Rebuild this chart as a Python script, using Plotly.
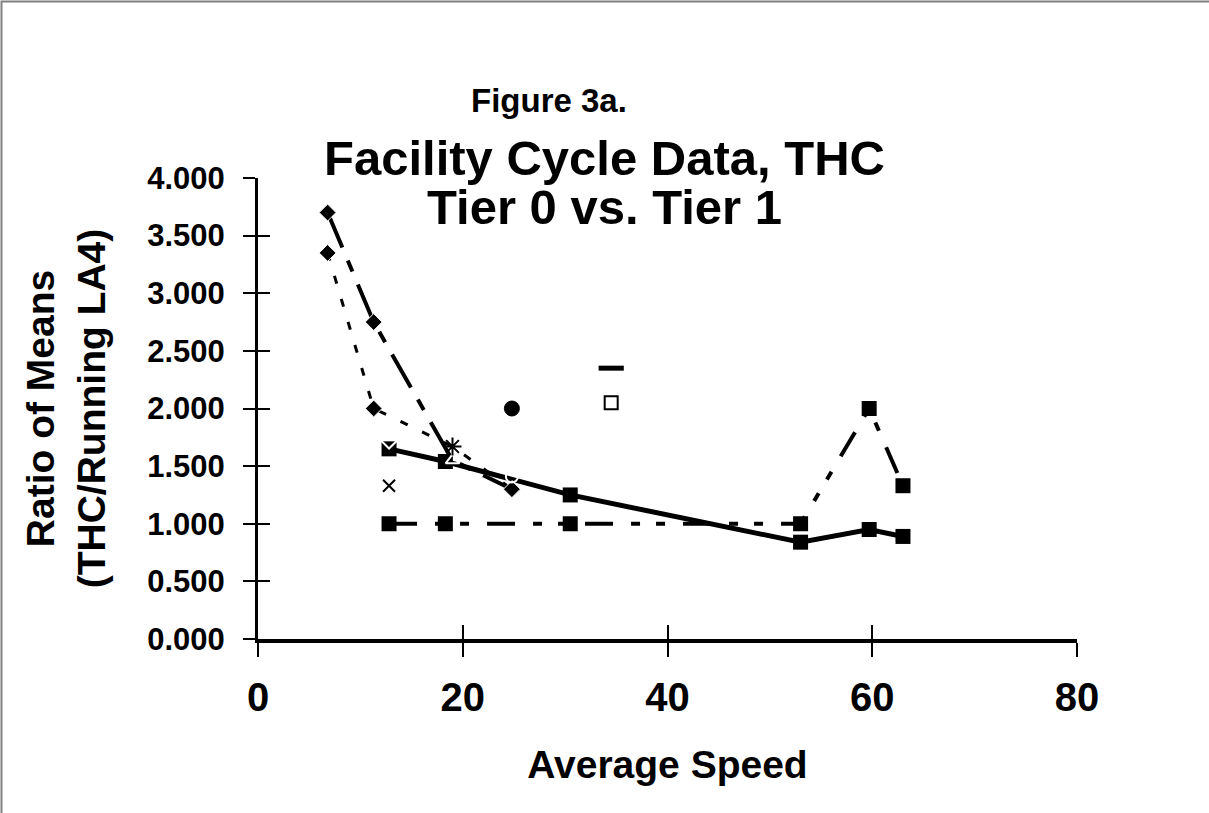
import plotly.graph_objects as go

# Tier 0 series (diamonds)
t0_long_x = [6.8, 11.3, 19.0, 24.8]
t0_long_y = [3.70, 2.75, 1.55, 1.30]
t0_dot_x = [6.8, 11.3, 19.0, 24.8]
t0_dot_y = [3.35, 2.00, 1.67, 1.30]

# Tier 1 series (squares)
t1_solid_x = [12.8, 18.3, 30.5, 53.0, 59.7, 63.0]
t1_solid_y = [1.65, 1.54, 1.25, 0.84, 0.95, 0.89]
t1_dash_x = [12.8, 18.3, 30.5, 53.0, 59.7, 63.0]
t1_dash_y = [1.00, 1.00, 1.00, 1.00, 2.00, 1.33]

# single points
open_x = [12.8, 19.0, 24.8]
open_y = [1.72, 1.55, 1.41]
open_symbols = ["diamond-open", "triangle-up-open", "circle-open"]
pts_x = [12.8, 19.0, 24.8, 34.5, 34.5]
pts_y = [1.33, 1.67, 2.00, 2.35, 2.05]
pts_symbols = ["x-thin-open", "asterisk-open", "circle", "line-ew-open", "square-open"]
pts_sizes = [12, 15, 15, 18, 13]
pts_widths = [2, 2, 1, 5, 2]

x_ticks = [0, 20, 40, 60, 80]
y_ticks = [0, 0.5, 1.0, 1.5, 2.0, 2.5, 3.0, 3.5, 4.0]

FONT = "Liberation Sans, Arial, sans-serif"

fig = go.Figure()

fig.add_trace(go.Scatter(x=t1_dash_x, y=t1_dash_y, mode="lines+markers",
                         line=dict(color="black", width=4, dash="28px,18px,9px,16px,9px,18px"),
                         marker=dict(symbol="square", size=15, color="black")))
fig.add_trace(go.Scatter(x=t1_solid_x, y=t1_solid_y, mode="lines+markers",
                         line=dict(color="black", width=5),
                         marker=dict(symbol="square", size=15, color="black")))
# diamond markers are hidden at 19 mph, where other symbols sit
fig.add_trace(go.Scatter(x=t0_dot_x, y=t0_dot_y, mode="lines+markers",
                         line=dict(color="black", width=3, dash="8px,16px"),
                         marker=dict(symbol="diamond", size=[13, 13, 0, 13],
                                     color="black", opacity=1)))
fig.add_trace(go.Scatter(x=t0_long_x, y=t0_long_y, mode="lines+markers",
                         line=dict(color="black", width=4, dash="38px,14px,12px,14px"),
                         marker=dict(symbol="diamond", size=[13, 13, 0, 13],
                                     color="black", opacity=1)))
fig.add_trace(go.Scatter(x=open_x, y=open_y, mode="markers",
                         marker=dict(symbol=open_symbols, size=12, color="white", opacity=1,
                                     line=dict(color="black", width=2))))
for px_, py_, sym, sz, lw in zip(pts_x, pts_y, pts_symbols, pts_sizes, pts_widths):
    fig.add_trace(go.Scatter(x=[px_], y=[py_], mode="markers",
                             marker=dict(symbol=sym, size=sz, color="black", opacity=1,
                                         line=dict(color="black", width=lw))))

axis_common = dict(showgrid=False, zeroline=False, showline=True, linecolor="black",
                   ticks="outside", tickcolor="black", tickwidth=2)

fig.update_xaxes(range=[0, 80], tickvals=x_ticks, ticklen=14, linewidth=4,
                 ticklabelstandoff=6,
                 tickfont=dict(family=FONT, size=40, color="black", weight="bold"),
                 title=dict(text="Average Speed", standoff=34,
                            font=dict(family=FONT, size=39, color="black", weight="bold")),
                 **axis_common)
fig.update_yaxes(range=[0, 4], tickvals=y_ticks, tickformat=".3f", ticklen=12, linewidth=3,
                 ticklabelstandoff=12,
                 tickfont=dict(family=FONT, size=31, color="black", weight="bold"),
                 title=dict(text="Ratio of Means<br>(THC/Running LA4)", standoff=30,
                            font=dict(family=FONT, size=39, color="black", weight="bold")),
                 **axis_common)

# inside halves of the cross tick marks
fig.update_layout(
    xaxis2=dict(overlaying="x", range=[0, 80], tickvals=x_ticks, ticks="inside",
                ticklen=14, tickwidth=2, tickcolor="black", showticklabels=False,
                showgrid=False, zeroline=False, showline=False),
    yaxis2=dict(overlaying="y", range=[0, 4], tickvals=y_ticks, ticks="inside",
                ticklen=12, tickwidth=2, tickcolor="black", showticklabels=False,
                showgrid=False, zeroline=False, showline=False),
)
fig.add_trace(go.Scatter(x=[None], y=[None], xaxis="x2", yaxis="y2",
                         showlegend=False, hoverinfo="skip"))

titles = [("Figure 3a.", 33, 0.355, 1.169), ("Facility Cycle Data, THC", 49, 0.4225, 1.043),
          ("Tier 0 vs. Tier 1", 49, 0.4225, 0.937)]
for text, size, xpos, ypos in titles:
    fig.add_annotation(text=text, xref="paper", yref="paper", x=xpos, y=ypos,
                       xanchor="center", yanchor="middle", showarrow=False,
                       font=dict(family=FONT, size=size, color="black", weight="bold"))

# grey frame of the chart area (only its left and top edges are in view)
fig.add_shape(type="rect", xref="paper", yref="paper", x0=-0.3132, x1=1.3,
              y0=-0.5, y1=1.3829, line=dict(color="#808080", width=2))

fig.update_layout(width=1209, height=813, showlegend=False,
                  paper_bgcolor="white", plot_bgcolor="white",
                  margin=dict(l=258, r=132, t=178, b=174))

fig.write_html("out.html", config={"displayModeBar": False},
               post_script="document.body.style.margin='0';")
